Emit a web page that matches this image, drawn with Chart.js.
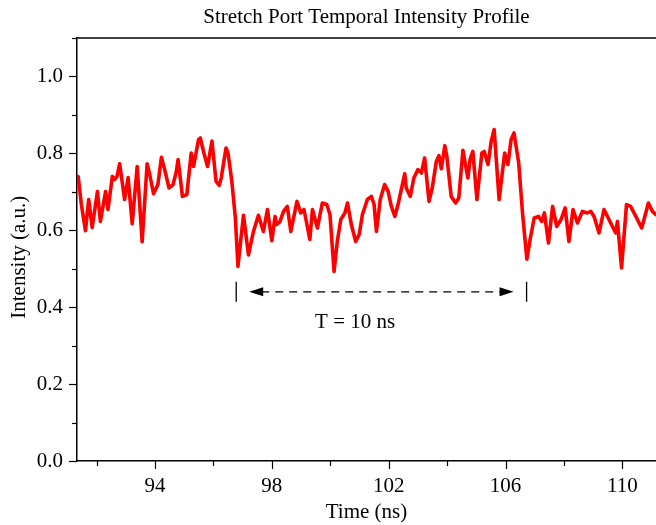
<!DOCTYPE html>
<html lang="en">
<head>
    <meta charset="UTF-8">
    <title>Stretch Port Temporal Intensity Profile</title>
    <script src="https://cdn.jsdelivr.net/npm/chart.js"></script>
    <style>
        body {
            margin: 0;
            padding: 0;
            background: #ffffff;
        }

        .wrap {
            width: 656px;
            height: 525px;
            position: relative;
        }
    </style>
</head>
<body>

    <div class="wrap">
        <canvas id="profileChart"></canvas>
    </div>

    <script>
        // Time axis (ns) and intensity (a.u.)
        const timeNs = [
            91.37, 91.48, 91.62, 91.73, 91.85, 92.03, 92.13, 92.31, 92.39, 92.54,
            92.62, 92.70, 92.79, 92.96, 93.08, 93.22, 93.39, 93.56, 93.73, 93.82,
            93.95, 94.10, 94.22, 94.33, 94.48, 94.62, 94.73, 94.79, 94.94, 95.09,
            95.24, 95.32, 95.49, 95.55, 95.66, 95.80, 95.95, 96.09, 96.20, 96.27,
            96.43, 96.50, 96.63, 96.75, 96.84, 96.92, 97.03, 97.20, 97.37, 97.54,
            97.71, 97.85, 98.00, 98.11, 98.17, 98.28, 98.40, 98.53, 98.65, 98.86,
            98.99, 99.10, 99.20, 99.30, 99.39, 99.56, 99.73, 99.88, 99.99, 100.13,
            100.24, 100.36, 100.50, 100.59, 100.72, 100.87, 100.99, 101.10, 101.27, 101.41,
            101.50, 101.58, 101.71, 101.86, 101.98, 102.09, 102.21, 102.32, 102.43, 102.55,
            102.60, 102.74, 102.86, 103.00, 103.12, 103.23, 103.38, 103.49, 103.63, 103.72,
            103.80, 103.92, 103.99, 104.14, 104.29, 104.40, 104.54, 104.71, 104.79, 104.88,
            105.02, 105.19, 105.27, 105.40, 105.51, 105.61, 105.78, 105.97, 106.08, 106.19,
            106.29, 106.45, 106.58, 106.73, 106.84, 106.98, 107.13, 107.24, 107.33, 107.47,
            107.61, 107.75, 107.90, 108.04, 108.17, 108.31, 108.46, 108.63, 108.80, 108.92,
            109.03, 109.20, 109.37, 109.60, 109.77, 109.83, 109.97, 110.14, 110.28, 110.46,
            110.66, 110.74, 110.89, 111.03, 111.14
        ];
        const intensity = [
            0.740, 0.667, 0.599, 0.680, 0.607, 0.701, 0.623, 0.701, 0.654, 0.740,
            0.732, 0.740, 0.773, 0.680, 0.737, 0.617, 0.766, 0.570, 0.773, 0.745,
            0.695, 0.719, 0.790, 0.758, 0.710, 0.719, 0.753, 0.784, 0.688, 0.693,
            0.801, 0.766, 0.836, 0.840, 0.805, 0.766, 0.832, 0.727, 0.717, 0.737,
            0.814, 0.801, 0.727, 0.633, 0.506, 0.563, 0.639, 0.536, 0.597, 0.639,
            0.597, 0.654, 0.573, 0.636, 0.615, 0.623, 0.649, 0.662, 0.597, 0.675,
            0.645, 0.654, 0.615, 0.576, 0.654, 0.606, 0.671, 0.667, 0.641, 0.493,
            0.571, 0.628, 0.645, 0.671, 0.615, 0.571, 0.589, 0.641, 0.680, 0.688,
            0.667, 0.597, 0.680, 0.719, 0.701, 0.662, 0.636, 0.667, 0.706, 0.747,
            0.710, 0.688, 0.736, 0.758, 0.749, 0.788, 0.675, 0.710, 0.779, 0.794,
            0.760, 0.820, 0.792, 0.688, 0.671, 0.684, 0.808, 0.736, 0.786, 0.805,
            0.680, 0.801, 0.805, 0.771, 0.832, 0.862, 0.680, 0.801, 0.771, 0.836,
            0.853, 0.775, 0.645, 0.525, 0.576, 0.632, 0.636, 0.623, 0.645, 0.567,
            0.662, 0.610, 0.628, 0.658, 0.571, 0.654, 0.619, 0.649, 0.645, 0.649,
            0.636, 0.593, 0.654, 0.619, 0.593, 0.623, 0.502, 0.667, 0.662, 0.636,
            0.606, 0.628, 0.671, 0.649, 0.641
        ];

        // Period marker
        const periodStart = 96.78;
        const periodEnd = 106.72;
        const periodLabel = "T = 10 ns";
        const yTitle = "Intensity (a.u.)";

        const serif = '"Liberation Serif", "Times New Roman", serif';

        // extra drawing: top frame line, major/minor ticks, y title, period marker
        const extrasPlugin = {
            id: "extras",
            afterDraw(chart) {
                const ctx = chart.ctx;
                const area = chart.chartArea;
                const xs = chart.scales.x;
                const ys = chart.scales.y;
                ctx.save();
                ctx.strokeStyle = "#000";
                ctx.lineWidth = 1.5;

                ctx.beginPath();
                ctx.moveTo(area.left, area.top);
                ctx.lineTo(area.right, area.top);
                ctx.stroke();

                ctx.lineWidth = 1.2;
                for (let v = 92; v <= 111; v += 2) {
                    const px = Math.round(xs.getPixelForValue(v)) + 0.5;
                    const len = (v % 4 === 2) ? 8 : 5;
                    ctx.beginPath();
                    ctx.moveTo(px, area.bottom);
                    ctx.lineTo(px, area.bottom + len);
                    ctx.stroke();
                }
                for (let i = 0; i <= 11; i++) {
                    const py = Math.round(ys.getPixelForValue(i / 10)) + 0.5;
                    const len = (i % 2 === 0) ? 8 : 5;
                    ctx.beginPath();
                    ctx.moveTo(area.left, py);
                    ctx.lineTo(area.left - len, py);
                    ctx.stroke();
                }

                // y axis title, sitting a little below the middle like the original
                ctx.fillStyle = "#000";
                ctx.font = "21px " + serif;
                ctx.textAlign = "center";
                ctx.textBaseline = "middle";
                ctx.save();
                ctx.translate(19, ys.getPixelForValue(0.53));
                ctx.rotate(-Math.PI / 2);
                ctx.fillText(yTitle, 0, 0);
                ctx.restore();

                // period marker
                const x1 = xs.getPixelForValue(periodStart);
                const x2 = xs.getPixelForValue(periodEnd);
                const yTop = ys.getPixelForValue(0.466);
                const yBot = ys.getPixelForValue(0.414);
                const yMid = ys.getPixelForValue(0.44);
                ctx.lineWidth = 1.3;
                ctx.beginPath();
                ctx.moveTo(x1, yTop); ctx.lineTo(x1, yBot);
                ctx.moveTo(x2, yTop); ctx.lineTo(x2, yBot);
                ctx.stroke();

                const a1 = x1 + 13;
                const a2 = x2 - 13;
                ctx.setLineDash([8, 6]);
                ctx.beginPath();
                ctx.moveTo(a1 + 12, yMid);
                ctx.lineTo(a2 - 12, yMid);
                ctx.stroke();
                ctx.setLineDash([]);

                ctx.beginPath();
                ctx.moveTo(a1, yMid);
                ctx.lineTo(a1 + 14, yMid - 4.5);
                ctx.lineTo(a1 + 14, yMid + 4.5);
                ctx.closePath();
                ctx.fill();
                ctx.beginPath();
                ctx.moveTo(a2, yMid);
                ctx.lineTo(a2 - 14, yMid - 4.5);
                ctx.lineTo(a2 - 14, yMid + 4.5);
                ctx.closePath();
                ctx.fill();

                ctx.fillText(periodLabel, xs.getPixelForValue(100.85), ys.getPixelForValue(0.359));
                ctx.restore();
            }
        };

        new Chart(document.getElementById("profileChart"), {
            type: "line",
            data: {
                datasets: [{
                    data: timeNs.map((t, i) => ({ x: t, y: intensity[i] })),
                    borderColor: "#ff0000",
                    borderWidth: 3.6,
                    borderJoinStyle: "round",
                    borderCapStyle: "round",
                    pointRadius: 0,
                    tension: 0,
                    fill: false
                }]
            },
            options: {
                responsive: true,
                maintainAspectRatio: false,
                animation: false,
                layout: { padding: 0 },
                plugins: {
                    legend: { display: false },
                    tooltip: { enabled: false },
                    title: {
                        display: true,
                        fullSize: false,
                        text: "Stretch Port Temporal Intensity Profile",
                        color: "#000",
                        font: { family: serif, size: 21, weight: "normal" },
                        padding: { top: 5, bottom: 7.8 }
                    }
                },
                scales: {
                    x: {
                        type: "linear",
                        min: 91.33,
                        max: 111.15,
                        afterFit: (s) => { s.height = 64; },
                        border: { color: "#000", width: 1.5 },
                        grid: { display: false, drawTicks: false },
                        ticks: {
                            stepSize: 2,
                            includeBounds: false,
                            autoSkip: false,
                            maxRotation: 0,
                            padding: 13,
                            color: "#000",
                            font: { family: serif, size: 21 },
                            callback: (v) => (v % 4 === 2 ? String(v) : "")
                        },
                        title: {
                            display: true,
                            text: "Time (ns)",
                            color: "#000",
                            font: { family: serif, size: 21 },
                            padding: { top: 0, bottom: 0 }
                        }
                    },
                    y: {
                        min: 0,
                        max: 1.1,
                        afterFit: (s) => { s.width = 77; },
                        border: { color: "#000", width: 1.5 },
                        grid: { display: false, drawTicks: false },
                        ticks: {
                            stepSize: 0.1,
                            autoSkip: false,
                            padding: 14,
                            color: "#000",
                            font: { family: serif, size: 21 },
                            callback: (v) => (Math.round(v * 10) % 2 === 0 ? v.toFixed(1) : "")
                        }
                    }
                }
            },
            plugins: [extrasPlugin]
        });
    </script>

</body>
</html>
